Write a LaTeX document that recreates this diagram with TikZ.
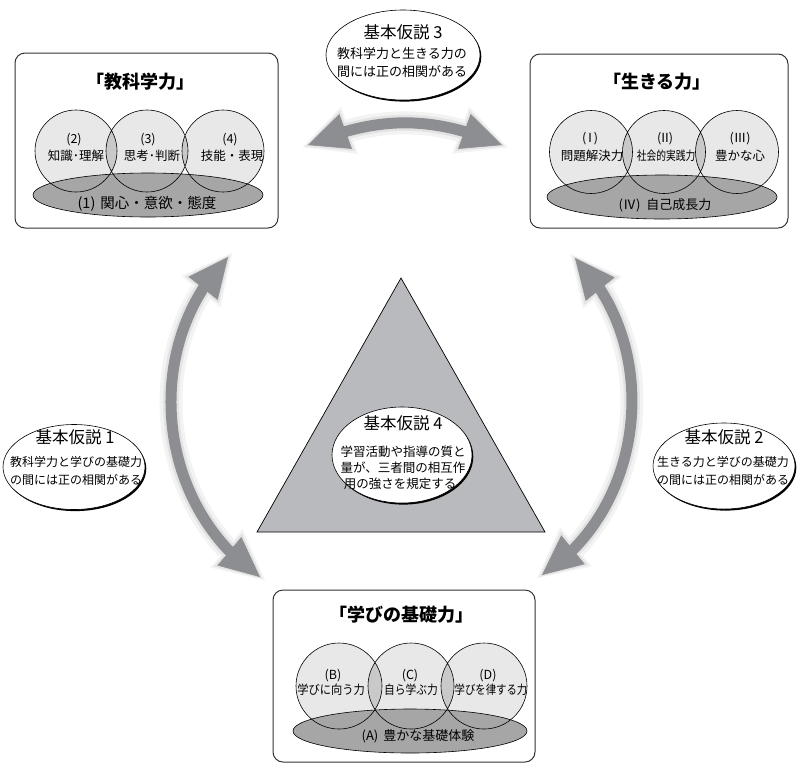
\documentclass[tikz,border=0pt]{standalone}
\usepackage{fontspec}
\setmainfont{Noto Sans CJK JP}
\usetikzlibrary{arrows.meta,bending,shapes.geometric,shadows}

\definecolor{cfill}{HTML}{E8E8E8}
\definecolor{lensc}{HTML}{C9C9C9}
\definecolor{efill}{HTML}{A6A6A6}
\definecolor{trifill}{HTML}{B9BABD}
\definecolor{arrowc}{HTML}{8D8E92}
\definecolor{glowa}{HTML}{F3F3F3}
\definecolor{glowb}{HTML}{E3E3E3}
\definecolor{boxc}{HTML}{333333}

\newcommand\fs[1]{\fontsize{#1}{#1}\selectfont}
\newcommand\rn[1]{(\hspace{-2.5pt}#1\hspace{-2.5pt})}
\newcommand\myvenn[8]{%
  \fill[cfill] (#1,#4) circle (#5pt) (#2,#4) circle (#5pt) (#3,#4) circle (#5pt);
  \begin{scope}\clip (#1,#4) circle (#5pt); \fill[lensc] (#2,#4) circle (#5pt);\end{scope}
  \begin{scope}\clip (#2,#4) circle (#5pt); \fill[lensc] (#3,#4) circle (#5pt);\end{scope}
  \draw[fill=efill, line width=0.6pt] (#6,#7) ellipse (#8pt and 22pt);
  \draw[line width=0.6pt] (#1,#4) circle (#5pt) (#2,#4) circle (#5pt) (#3,#4) circle (#5pt);
}

\tikzset{
  bigarrow/.style={draw=arrowc, line width=11pt,
    {Triangle[length=40pt,width=37pt,line width=0.5pt]}-{Triangle[length=40pt,width=37pt,line width=0.5pt]}},
  glowA/.style={draw=glowa, line width=23pt, shorten <=-6pt, shorten >=-6pt,
    {Triangle[length=50pt,width=50pt,line width=0.5pt]}-{Triangle[length=50pt,width=50pt,line width=0.5pt]}},
  glowB/.style={draw=glowb, line width=16pt, shorten <=-3pt, shorten >=-3pt,
    {Triangle[length=45pt,width=43pt,line width=0.5pt]}-{Triangle[length=45pt,width=43pt,line width=0.5pt]}},
  box/.style={draw=boxc, line width=1pt, rounded corners=10pt, fill=none, inner sep=0pt},
  hyp/.style={ellipse, draw, fill=white, line width=0.6pt, inner sep=0pt,
    general shadow={fill=black, shadow xshift=1.3pt, shadow yshift=-1.6pt}},
  lbl/.style={inner sep=0pt, font=\fs{12.5}},
  elbl/.style={inner sep=0pt, font=\fs{13}},
  ttl/.style={inner sep=0pt, font=\fs{18}\bfseries},
  htitle/.style={inner sep=0pt, font=\fs{16.5}},
}

\begin{document}
\begin{tikzpicture}[x=1pt,y=-1pt]
\useasboundingbox (0,0) rectangle (797,764);

% arrow end points
\coordinate (tL) at (308,145); \coordinate (tR) at (502,145);
\coordinate (lT) at (228,257); \coordinate (lB) at (260,577);
\coordinate (rT) at (575,258); \coordinate (rB) at (542,575);

\draw[glowA] (tL) to[bend left=23] (tR);
\draw[glowA] (lT) to[bend right=50] (lB);
\draw[glowA] (rT) to[bend left=51] (rB);
\draw[glowB] (tL) to[bend left=23] (tR);
\draw[glowB] (lT) to[bend right=50] (lB);
\draw[glowB] (rT) to[bend left=51] (rB);
\draw[bigarrow] (tL) to[bend left=23] (tR);
\draw[bigarrow] (lT) to[bend right=50] (lB);
\draw[bigarrow] (rT) to[bend left=51] (rB);

% central triangle
\coordinate (triA) at (401,278); \coordinate (triB) at (257,532); \coordinate (triC) at (545,532);
\draw[fill=trifill, line width=0.7pt] (triA) -- (triB) -- (triC) -- cycle;

% ---- box 教科学力
\node[box, minimum width=263pt, minimum height=175pt] (kb) at (146.5,140.5) {};
\node[ttl] (kbt) at (140,82) {「教科学力」};
\myvenn{76}{147}{223}{151}{41}{148}{195}{115}
\node[lbl] (k2a) at (74,140) {(2)};
\node[lbl] (k2b) at (76,156) {知識･理解};
\node[lbl] (k3a) at (148,140) {(3)};
\node[lbl] (k3b) at (152,156) {思考･判断};
\node[lbl] (k4a) at (230,140) {(4)};
\node[lbl] (k4b) at (232,156) {技能・表現};
\node[inner sep=0pt, font=\fs{14.5}] (k1) at (147,204) {(1)\hspace{5pt}関心・意欲・態度};

% ---- box 生きる力
\node[box, minimum width=258pt, minimum height=174pt] (ib) at (659,141) {};
\node[ttl] (ibt) at (657,82) {「生きる力」};
\myvenn{591}{664}{737}{152}{41.5}{662}{197}{115}
\node[lbl] (i1a) at (590,139) {\rn{Ⅰ}};
\node[lbl] (i1b) at (592,156) {問題解決力};
\node[lbl] (i2a) at (665,139) {\rn{Ⅱ}};
\node[lbl] (i2b) at (666,156) {\scalebox{0.78}[1]{社会的実践力}};
\node[lbl] (i3a) at (740,139) {(Ⅲ)};
\node[lbl] (i3b) at (740,156) {豊かな心};
\node[elbl] (i4) at (665,205) {(Ⅳ)\hspace{6pt}自己成長力};

% ---- box 学びの基礎力
\node[box, minimum width=262pt, minimum height=172pt] (mb) at (404,676) {};
\node[ttl] (mbt) at (401,615) {「学びの基礎力」};
\myvenn{339}{411}{484}{686}{43}{410}{731}{117}
\node[lbl] (mBa) at (333,676) {(B)};
\node[lbl] (mBb) at (331,690) {\scalebox{0.9}[1]{学びに向う力}};
\node[lbl] (mCa) at (410,676) {(C)};
\node[lbl] (mCb) at (411,690) {\scalebox{0.86}[1]{自ら学ぶ力}};
\node[lbl] (mDa) at (488,676) {(D)};
\node[lbl] (mDb) at (491,690) {\scalebox{0.83}[1]{学びを律する力}};
\node[elbl] (mA) at (418,736) {(A)\hspace{5pt}豊かな基礎体験};

% ---- hypotheses
\node[hyp, minimum width=154pt, minimum height=90pt] (h3) at (403,55) {};
\node[htitle] (h3t) at (403,32) {基本仮説 3};
\node[inner sep=0pt, font=\fs{13}] (h3a) at (402,54) {教科学力と生きる力の};
\node[inner sep=0pt, font=\fs{13}] (h3b) at (402,72) {間には正の相関がある};

\node[hyp, minimum width=142pt, minimum height=85pt] (h1) at (74,467) {};
\node[htitle] (h1t) at (75,437) {基本仮説 1};
\node[inner sep=0pt, font=\fs{12}] (h1a) at (76,462) {教科学力と学びの基礎力};
\node[inner sep=0pt, font=\fs{12}] (h1b) at (76,480) {の間には正の相関がある};

\node[hyp, minimum width=142pt, minimum height=86pt] (h2) at (724,466) {};
\node[htitle] (h2t) at (724,437) {基本仮説 2};
\node[inner sep=0pt, font=\fs{12}] (h2a) at (723,462) {生きる力と学びの基礎力};
\node[inner sep=0pt, font=\fs{12}] (h2b) at (723,480) {の間には正の相関がある};

\node[hyp, minimum width=140pt, minimum height=96pt] (h4) at (402,455) {};
\node[htitle] (h4t) at (403,423) {基本仮説 4};
\node[inner sep=0pt, font=\fs{12.5}] (h4a) at (403,452) {学習活動や指導の質と};
\node[inner sep=0pt, font=\fs{12.5}] (h4b) at (403,468) {量が、三者間の相互作};
\node[inner sep=0pt, font=\fs{12.5}] (h4c) at (400,484) {用の強さを規定する};
\end{tikzpicture}
\end{document}
